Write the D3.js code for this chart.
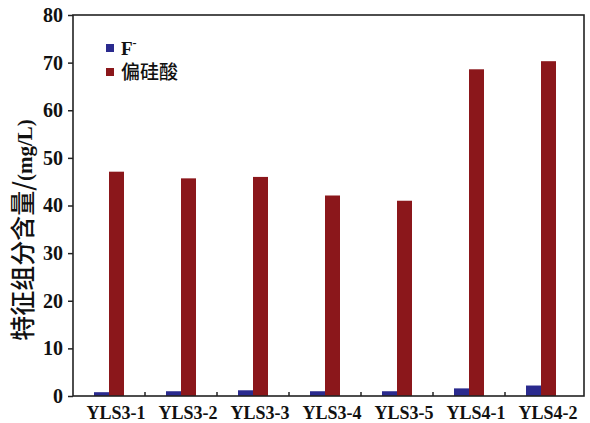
<!DOCTYPE html>
<html><head><meta charset="utf-8">
<script src="https://cdn.jsdelivr.net/npm/d3@7/dist/d3.min.js"></script>
<style>body{margin:0;background:#fff}</style>
</head><body>
<svg id="c" width="590" height="423"></svg>
<script>
const categories = ["YLS3-1","YLS3-2","YLS3-3","YLS3-4","YLS3-5","YLS4-1","YLS4-2"];
const seriesNames = ["F","偏硅酸"];
const fValues = [0.8, 1.0, 1.2, 1.0, 1.0, 1.6, 2.2];
const silicicValues = [47.1, 45.7, 46.0, 42.1, 41.0, 68.6, 70.3];
const yTicks = [0,10,20,30,40,50,60,70,80];
const colors = ["#2a2a8e", "#8b171b"];

const svg = d3.select("#c");
const L=73, R=584, T=15, B=396;
const x = d3.scaleBand().domain(categories).range([L,577]).padding(0);
const y = d3.scaleLinear().domain([0,80]).range([B,T]);
const barW = 15;
const series = [fValues, silicicValues];

const serif = "'Liberation Serif','Times New Roman',serif";

// bars
series.forEach((vals,si)=>{
  svg.append("g").selectAll("rect").data(categories).join("rect")
    .attr("x", d => x(d) + x.bandwidth()/2 - barW + si*barW)
    .attr("y", (d,i) => y(vals[i]))
    .attr("width", barW)
    .attr("height", (d,i) => B - y(vals[i]))
    .attr("fill", colors[si]);
});

// y axis
const ya = svg.append("g").attr("transform",`translate(${L},0)`)
  .call(d3.axisLeft(y).tickValues(yTicks).tickSize(5).tickPadding(5));
ya.select(".domain").remove();
ya.selectAll("line").attr("stroke","#222").attr("stroke-width",1.5);
ya.selectAll("text").attr("font-family",serif).attr("font-weight","bold").attr("font-size",20).attr("fill","#111");

// x axis
const xa = svg.append("g").attr("transform",`translate(0,${B})`)
  .call(d3.axisBottom(x).tickSize(0).tickPadding(8));
xa.select(".domain").remove();
xa.selectAll("text").attr("font-family",serif).attr("font-weight","bold").attr("font-size",18).attr("fill","#111").attr("dy","0.85em").attr("dx",7);
// inward ticks between categories
svg.append("g").selectAll("line").data(categories.slice(1)).join("line")
  .attr("x1", d=>x(d)).attr("x2", d=>x(d)).attr("y1",B).attr("y2",B-4)
  .attr("stroke","#222").attr("stroke-width",1.5);

// frame
svg.append("rect").attr("x",L).attr("y",T).attr("width",R-L).attr("height",B-T)
  .attr("fill","none").attr("stroke","#222").attr("stroke-width",1.6);

// legend
const lg = svg.append("g");
seriesNames.forEach((n,i)=>{
  const yy = 48 + i*24;
  lg.append("rect").attr("x",106).attr("y",yy-4).attr("width",8).attr("height",8).attr("fill",colors[i]);
  const t = lg.append("text").attr("x",121).attr("y",yy+7).attr("font-size",19).attr("fill","#111");
  if(i===0){
    t.attr("font-family",serif).attr("font-weight","bold").text(n);
    t.append("tspan").attr("dy",-8).attr("font-size",12).text("-");
  } else {
    t.attr("font-family","'Noto Sans CJK SC',sans-serif").attr("font-weight","500").text(n);
  }
});

// y title
const yt = svg.append("text").attr("transform","translate(32,230) rotate(-90)")
  .attr("text-anchor","middle").attr("font-size",25).attr("fill","#111");
yt.append("tspan").attr("font-family","'Noto Sans CJK SC',sans-serif").attr("font-weight","500").text("特征组分含量/");
yt.append("tspan").attr("font-family",serif).attr("font-weight","bold").attr("font-size",21).text("(mg/L)");
</script>
</body></html>
